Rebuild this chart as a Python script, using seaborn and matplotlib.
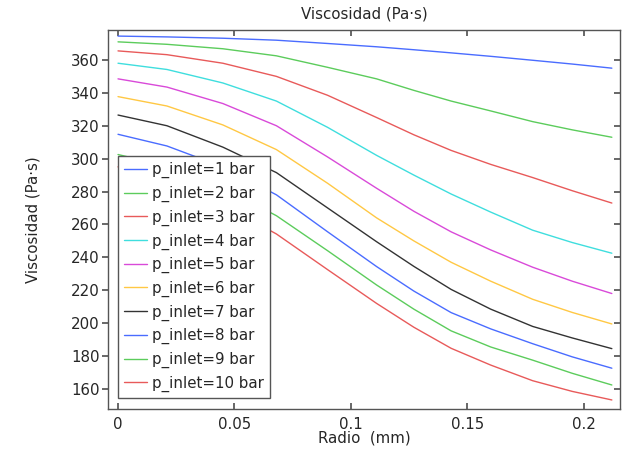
import numpy as np
import pandas as pd
import matplotlib
matplotlib.use("Agg")
import matplotlib.pyplot as plt
import seaborn as sns

radio = [0, 0.021, 0.045, 0.068, 0.09, 0.111, 0.127, 0.143, 0.16, 0.178, 0.195, 0.212]

p1 = [374.5, 374.0, 373.2, 372.0, 370.0, 368.0, 366.2, 364.3, 362.2, 359.8, 357.5, 355.0]
p2 = [371.0, 369.5, 366.8, 362.5, 355.5, 348.5, 341.5, 335.0, 329.0, 322.5, 317.5, 313.0]
p3 = [365.5, 363.2, 358.0, 350.0, 338.5, 325.0, 314.5, 305.0, 296.5, 288.5, 280.5, 273.0]
p4 = [358.0, 354.2, 346.0, 335.0, 319.0, 302.0, 290.0, 278.5, 267.5, 256.5, 249.0, 242.5]
p5 = [348.5, 343.5, 333.5, 320.0, 301.0, 282.0, 268.0, 255.5, 244.5, 234.0, 225.5, 218.0]
p6 = [337.7, 332.0, 320.5, 305.5, 285.0, 264.0, 250.0, 237.0, 225.5, 214.5, 206.5, 199.5]
p7 = [326.5, 320.0, 307.0, 291.5, 270.0, 249.5, 234.5, 220.5, 208.5, 198.0, 191.0, 184.5]
p8 = [314.8, 307.7, 295.0, 278.0, 255.5, 234.4, 219.5, 206.4, 196.5, 187.5, 179.5, 172.6]
p9 = [302.5, 295.5, 282.5, 265.3, 244.0, 223.2, 208.5, 195.3, 185.5, 177.5, 169.5, 162.4]
p10 = [295.0, 288.5, 272.0, 254.2, 232.5, 212.0, 197.5, 184.7, 174.5, 165.0, 158.5, 153.3]

series = [p1, p2, p3, p4, p5, p6, p7, p8, p9, p10]
labels = [f"p_inlet={i} bar" for i in range(1, 11)]
xticks = [0, 0.05, 0.1, 0.15, 0.2]
xticklabels = ["0", "0.05", "0.1", "0.15", "0.2"]
yticks = list(range(160, 361, 20))

colors = ["#4a6cff", "#5ccc5c", "#e85a5a", "#3fdede", "#d94ad9",
          "#ffc844", "#333333", "#4a6cff", "#5ccc5c", "#e85a5a"]

rows = []
for lab, vals in zip(labels, series):
    for x, v in zip(radio, vals):
        rows.append({"Radio": x, "Visc": v, "serie": lab})
df = pd.DataFrame(rows)

sns.set_theme(style="white")
plt.rcParams['font.family'] = ['DejaVu Sans']

fig = plt.figure(figsize=(6.33, 4.49), dpi=100)
ax = fig.add_axes([108/633, 1 - 409/449, (620-108)/633, (409-30)/449])

sns.lineplot(data=df, x="Radio", y="Visc", hue="serie", hue_order=labels,
             palette=colors, linewidth=1.0, ax=ax, sort=False, estimator=None)

ax.set_xlim(-0.0043, 0.2155)
ax.set_ylim(147.8, 378.2)
ax.set_xticks(xticks)
ax.set_xticklabels(xticklabels)
ax.set_yticks(yticks)

for s in ax.spines.values():
    s.set_color("#555555")
    s.set_linewidth(1.0)

ax.tick_params(axis='y', direction='out', length=4, color="#555555", labelsize=10.8, pad=2, left=True)
ax.tick_params(axis='x', direction='in', length=4, color="#555555", labelsize=10.8, pad=6, bottom=True)

top = ax.secondary_xaxis('top')
top.set_xticks(xticks)
top.tick_params(direction='in', length=4, color="#555555", labeltop=False)
top.spines['top'].set_visible(False)
right = ax.secondary_yaxis('right')
right.set_yticks(yticks)
right.tick_params(direction='in', length=4, color="#555555", labelright=False)
right.spines['right'].set_visible(False)

ax.set_title("Viscosidad (Pa·s)", fontsize=10.8, pad=8)
ax.set_xlabel("Radio  (mm)", fontsize=10.8, labelpad=-1)
ax.set_ylabel("Viscosidad (Pa·s)", fontsize=10.8, labelpad=22)

leg = ax.legend(loc="upper left", bbox_to_anchor=(0.019, 0.667), fontsize=10.8,
                frameon=True, fancybox=False, shadow=False, edgecolor="#555555",
                framealpha=1.0, labelspacing=0.5, handlelength=1.55,
                handletextpad=0.35, borderpad=0.4, borderaxespad=0)
leg.get_frame().set_linewidth(1.0)

fig.savefig("out.png", dpi=100)
